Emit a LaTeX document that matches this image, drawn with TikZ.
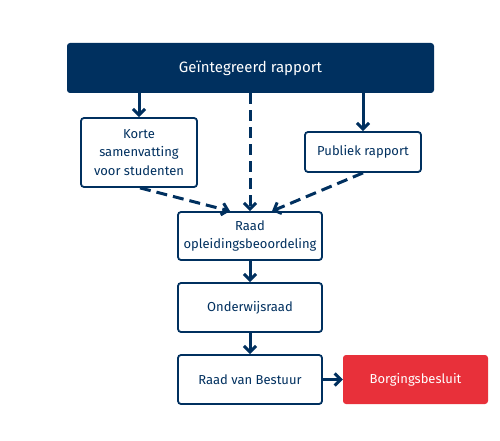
\documentclass[tikz,border=0pt]{standalone}
\usepackage{fontspec}
\setmainfont{Fira Sans}
\usetikzlibrary{arrows.meta}
\definecolor{navy}{HTML}{00305F}
\definecolor{bred}{HTML}{E8303A}
\begin{document}
\begin{tikzpicture}[x=1pt,y=-1pt,
  wbox/.style={draw=navy,line width=1.8pt,fill=white,rounded corners=3pt,text=navy,align=center,font=\fontsize{13}{18.5}\selectfont},
  arr/.style={draw=navy,line width=3pt,-{Straight Barb[length=6pt,width=12pt,line width=3pt]}},
  darr/.style={arr,dash pattern=on 11pt off 6pt}]
\useasboundingbox (0,0) rectangle (500,441);
\node[fill=navy,rounded corners=3pt,minimum width=367pt,minimum height=50pt,text=white,font=\fontsize{15}{18}\selectfont] (top) at (250.5,68) {Geïntegreerd rapport};
\node[wbox,minimum width=116pt,minimum height=69pt] (korte) at (139,152.5) {Korte\\samenvatting\\voor studenten};
\node[wbox,minimum width=116pt,minimum height=40pt] (pub) at (363,152) {Publiek rapport};
\node[wbox,minimum width=144pt,minimum height=48pt] (raad) at (250,236) {Raad\\opleidingsbeoordeling};
\node[wbox,minimum width=144pt,minimum height=49pt] (ond) at (250,307.5) {Onderwijsraad};
\node[wbox,minimum width=144pt,minimum height=49pt] (rvb) at (250,379.5) {Raad van Bestuur};
\node[fill=bred,rounded corners=3pt,minimum width=145pt,minimum height=49pt,text=white,font=\fontsize{13}{18}\selectfont] (borg) at (415.5,379.5) {Borgingsbesluit};
\draw[arr] (top.south -| korte.north) -- (korte.north);
\draw[arr] (top.south -| pub.north) -- (pub.north);
\draw[darr] (top.south -| raad.north) -- (raad.north);
\coordinate (k1) at ([xshift=1pt]korte.south);
\coordinate (r1) at ([xshift=-20pt]raad.north);
\coordinate (p1) at (pub.south);
\coordinate (r2) at ([xshift=22pt]raad.north);
\draw[darr] (k1) -- (r1);
\draw[darr] (p1) -- (r2);
\draw[arr] (raad.south) -- (ond.north);
\draw[arr] (ond.south) -- (rvb.north);
\draw[arr] (rvb.east) -- (borg.west);
\end{tikzpicture}
\end{document}
